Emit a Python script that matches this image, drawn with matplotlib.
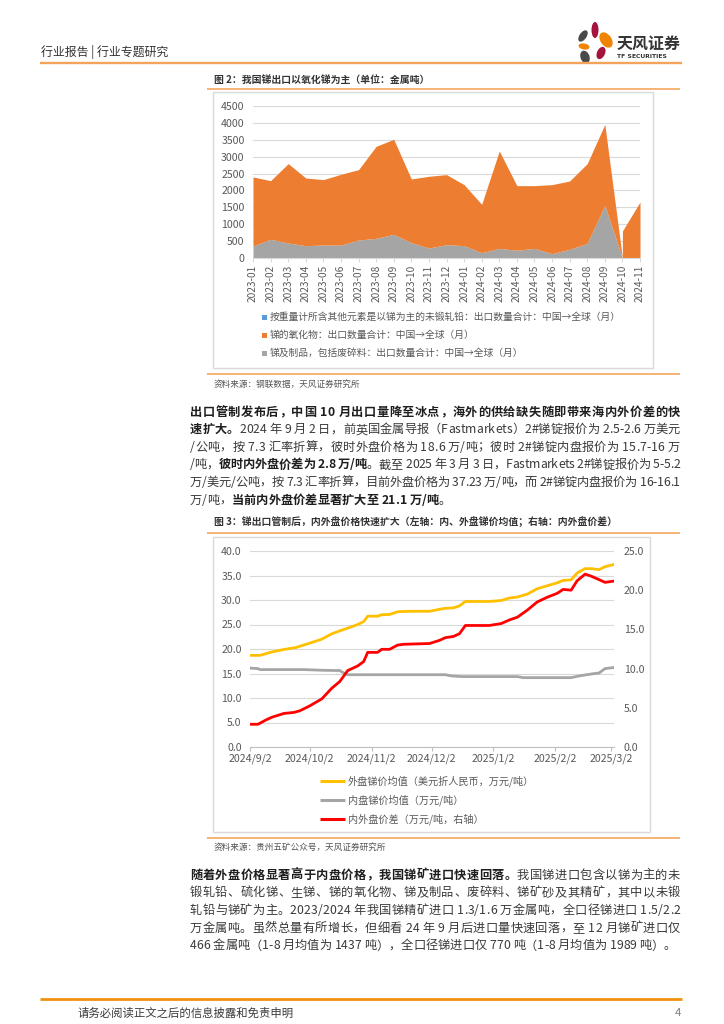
import datetime as dt
import numpy as np
import matplotlib
matplotlib.use('Agg')
import matplotlib.pyplot as plt
import matplotlib.dates as mdates
from matplotlib.font_manager import FontProperties
from matplotlib.patches import Rectangle, Ellipse

FAM = ['Noto Sans CJK SC', 'DejaVu Sans']
plt.rcParams['font.family'] = FAM

# ---------------- Figure 2 data (metal tonnes) ----------------
export_months = ['2023-01', '2023-02', '2023-03', '2023-04', '2023-05', '2023-06',
                 '2023-07', '2023-08', '2023-09', '2023-10', '2023-11', '2023-12',
                 '2024-01', '2024-02', '2024-03', '2024-04', '2024-05', '2024-06',
                 '2024-07', '2024-08', '2024-09', '2024-10', '2024-11']
unwrought_sb = [0, 0, 0, 0, 0, 0, 0, 0, 0, 0, 0, 0,
                0, 0, 0, 0, 0, 0, 0, 0, 0, 0, 0]
sb_oxide = [2044, 1737, 2350, 2004, 1935, 2093, 2083, 2725, 2814, 1886, 2123, 2073,
            1807, 1431, 2883, 1915, 1856, 2044, 2023, 2360, 2398, 800, 1658]
sb_products = [355, 553, 444, 365, 385, 385, 533, 582, 700, 454, 296, 395,
               365, 158, 286, 227, 286, 128, 257, 434, 1560, 0, 0]
legend2_labels = ['按重量计所含其他元素是以锑为主的未锻轧铅：出口数量合计：中国→全球（月）',
                  '锑的氧化物：出口数量合计：中国→全球（月）',
                  '锑及制品，包括废碎料：出口数量合计：中国→全球（月）']

# ---------------- Figure 3 data ----------------
foreign_dates = ['2024-09-02', '2024-09-07', '2024-09-13', '2024-09-19', '2024-09-25',
                 '2024-10-02', '2024-10-08', '2024-10-13', '2024-10-17', '2024-10-22',
                 '2024-10-26', '2024-10-29', '2024-10-31', '2024-11-05', '2024-11-07',
                 '2024-11-11', '2024-11-15', '2024-11-20', '2024-12-01', '2024-12-06',
                 '2024-12-09', '2024-12-13', '2024-12-16', '2024-12-19', '2024-12-31',
                 '2025-01-06', '2025-01-10', '2025-01-14', '2025-01-19', '2025-01-24',
                 '2025-01-29', '2025-02-03', '2025-02-06', '2025-02-10', '2025-02-13',
                 '2025-02-17', '2025-02-20', '2025-02-24', '2025-02-27', '2025-03-03']
foreign_price = [18.7, 18.7, 19.4, 19.9, 20.3, 21.2, 22.0, 23.1, 23.7, 24.4,
                 25.0, 25.6, 26.7, 26.7, 27.0, 27.05, 27.6, 27.7, 27.7, 28.1,
                 28.3, 28.4, 28.8, 29.7, 29.7, 29.9, 30.4, 30.6, 31.2, 32.3,
                 32.9, 33.5, 34.0, 34.1, 35.5, 36.4, 36.4, 36.2, 36.8, 37.2]
domestic_dates = ['2024-09-02', '2024-09-06', '2024-09-07', '2024-09-29', '2024-10-09',
                  '2024-10-17', '2024-10-19', '2024-10-21', '2024-12-09', '2024-12-12',
                  '2024-12-17', '2025-01-14', '2025-01-17', '2025-02-10', '2025-02-13',
                  '2025-02-17', '2025-02-21', '2025-02-24', '2025-02-27', '2025-03-03']
domestic_price = [16.1, 16.0, 15.8, 15.8, 15.65, 15.6, 15.1, 14.75, 14.75, 14.5,
                  14.37, 14.37, 14.15, 14.15, 14.42, 14.7, 14.95, 15.1, 16.0, 16.2]
spread_dates = ['2024-09-02', '2024-09-06', '2024-09-10', '2024-09-13', '2024-09-19',
                '2024-09-24', '2024-09-27', '2024-10-02', '2024-10-08', '2024-10-13',
                '2024-10-17', '2024-10-21', '2024-10-26', '2024-10-29', '2024-10-31',
                '2024-11-05', '2024-11-07', '2024-11-11', '2024-11-15', '2024-11-18',
                '2024-12-01', '2024-12-06', '2024-12-09', '2024-12-13', '2024-12-16',
                '2024-12-19', '2024-12-31', '2025-01-06', '2025-01-10', '2025-01-14',
                '2025-01-19', '2025-01-24', '2025-01-29', '2025-02-03', '2025-02-06',
                '2025-02-10', '2025-02-13', '2025-02-17', '2025-02-20', '2025-02-27',
                '2025-03-03']
spread_value = [2.9, 2.9, 3.45, 3.8, 4.28, 4.41, 4.62, 5.25, 6.14, 7.5,
                8.35, 9.75, 10.34, 10.9, 12.07, 12.07, 12.46, 12.46, 13.0, 13.1,
                13.2, 13.6, 13.95, 14.1, 14.45, 15.5, 15.5, 15.75, 16.2, 16.55,
                17.45, 18.5, 19.1, 19.6, 20.1, 20.0, 21.2, 22.05, 21.8, 21.0,
                21.15]
price_tick_labels = ['2024/9/2', '2024/10/2', '2024/11/2', '2024/12/2',
                     '2025/1/2', '2025/2/2', '2025/3/2']
legend3_labels = ['外盘锑价均值（美元折人民币，万元/吨）',
                  '内盘锑价均值（万元/吨）',
                  '内外盘价差（万元/吨，右轴）']

# ---------------- page text ----------------
para1 = [
    [("出口管制发布后，中国 10 月出口量降至冰点，海外的供给缺失随即带来海内外价差的快", True)],
    [("速扩大。", True), ("2024 年 9 月 2 日，前英国金属导报（Fastmarkets）2#锑锭报价为 2.5-2.6 万美元", False)],
    [("/公吨，按 7.3 汇率折算，彼时外盘价格为 18.6 万/吨；彼时 2#锑锭内盘报价为 15.7-16 万", False)],
    [("/吨，", False), ("彼时内外盘价差为 2.8 万/吨", True), ("。截至 2025 年 3 月 3 日，Fastmarkets 2#锑锭报价为 5-5.2", False)],
    [("万/美元/公吨，按 7.3 汇率折算，目前外盘价格为 37.23 万/吨，而 2#锑锭内盘报价为 16-16.1", False)],
    [("万/吨，", False), ("当前内外盘价差显著扩大至 21.1 万/吨", True), ("。", False)],
]
para2 = [
    [("随着外盘价格显著高于内盘价格，我国锑矿进口快速回落。", True), ("我国锑进口包含以锑为主的未", False)],
    [("锻轧铅、硫化锑、生锑、锑的氧化物、锑及制品、废碎料、锑矿砂及其精矿，其中以未锻", False)],
    [("轧铅与锑矿为主。2023/2024 年我国锑精矿进口 1.3/1.6 万金属吨，全口径锑进口 1.5/2.2", False)],
    [("万金属吨。虽然总量有所增长，但细看 24 年 9 月后进口量快速回落，至 12 月锑矿进口仅", False)],
    [("466 金属吨（1-8 月均值为 1437 吨），全口径锑进口仅 770 吨（1-8 月均值为 1989 吨）。", False)],
]

W, H = 724, 1024
fig = plt.figure(figsize=(W / 100, H / 100), dpi=100)
fig.patch.set_facecolor('white')
ov = fig.add_axes([0, 0, 1, 1], zorder=0)
ov.set_xlim(0, W)
ov.set_ylim(H, 0)
ov.axis('off')


def rect(l, t, r, b):
    return [l / W, 1 - b / H, (r - l) / W, (b - t) / H]


def hline(x0, x1, y, color, lw):
    ov.plot([x0, x1], [y, y], color=color, lw=lw, solid_capstyle='butt')


TXT = '#333333'
GRY = '#595959'
ORL = '#F4A65E'

# ---- header ----
ov.text(41, 52, '行业报告 | 行业专题研究', fontsize=8.6, color='#333333', va='center', ha='left')
hline(40, 682, 62.5, '#F3A35A', 1.7)
petals = [((583, 36), 7, 13, 35, '#4A4A4A'),
          ((595, 30), 7, 16, 0, '#A5143C'),
          ((606, 40), 11, 17, -35, '#F08300'),
          ((584, 46.5), 11, 6, 10, '#F08300'),
          ((601, 53), 8, 13, 25, '#A5143C'),
          ((585, 57), 9, 13, -20, '#4A4A4A')]
for c, w_, h_, a, col in petals:
    ov.add_patch(Ellipse(c, w_, h_, angle=a, color=col, lw=0))
ov.text(617, 44, '天风证券', fontsize=11.5, fontweight='bold', color='#333333', va='center', ha='left')
ov.text(617, 57, 'TF SECURITIES', fontsize=4.4, fontweight='bold', color='#333333',
        va='center', ha='left', family=['DejaVu Sans'])

# ---- footer ----
hline(40, 682, 999, '#F0920F', 2.0)
ov.text(78, 1013, '请务必阅读正文之后的信息披露和免责申明', fontsize=8.2, color='#3a3a3a',
        va='center', ha='left')
ov.text(675, 1013, '4', fontsize=8.2, color='#7f7f7f', va='center', ha='left')

# ---- justified paragraphs ----
renderer = fig.canvas.get_renderer()
_cache = {}


def cw(c, bold, size):
    key = (c, bold, size)
    if key not in _cache:
        prop = FontProperties(family=FAM, size=size, weight='bold' if bold else 'normal')
        w1 = renderer.get_text_width_height_descent('|' + c + '|', prop, ismath=False)[0]
        w0 = renderer.get_text_width_height_descent('||', prop, ismath=False)[0]
        _cache[key] = w1 - w0
    return _cache[key]


def draw_para(lines, x0, x1, y0, dy, size):
    for i, runs in enumerate(lines):
        chars = [(c, b) for t, b in runs for c in t]
        widths = [cw(c, b, size) for c, b in chars]
        total = sum(widths)
        last = (i == len(lines) - 1)
        extra = 0 if last else (x1 - x0 - total) / max(len(chars) - 1, 1)
        x = x0
        yb = y0 + i * dy + 4.6
        for (c, b), w_ in zip(chars, widths):
            if c != ' ':
                ov.text(x, yb, c, fontsize=size, fontweight='bold' if b else 'normal',
                        color='#1e1e1e' if b else '#3a3a3a', ha='left', va='baseline')
            x += w_ + extra


draw_para(para1, 190, 680, 411, 17.6, 8.8)
draw_para(para2, 190, 680, 874, 17.7, 8.8)

# ================= Figure 2 =================
ov.text(214, 80, '图 2：我国锑出口以氧化锑为主（单位：金属吨）', fontsize=7.1, fontweight='bold',
        color=TXT, va='center', ha='left')
hline(207, 680, 88.5, ORL, 1.2)
ov.add_patch(Rectangle((213, 92), 440, 276, fill=False, ec='#D9D9D9', lw=1.0))
hline(207, 680, 373.5, ORL, 1.2)
ov.text(214, 384, '资料来源：钢联数据，天风证券研究所', fontsize=6.2, color='#555555',
        va='center', ha='left')

ax2 = fig.add_axes(rect(253, 106, 640, 258), zorder=2)
ax2.patch.set_alpha(0)
xi = np.arange(len(export_months))
blue = np.array(unwrought_sb, float)
gray = np.array(sb_products, float)
oxide = np.array(sb_oxide, float)
top_gray = blue + gray
top_ox = top_gray + oxide
C_BLUE, C_OR, C_GR = '#5B9BD5', '#ED7D31', '#A5A5A5'
ax2.fill_between(xi, 0, blue, color=C_BLUE, lw=0)
ax2.fill_between(xi, blue, top_gray, color=C_GR, lw=0, zorder=2)
k = export_months.index('2024-10')
upper_a = np.concatenate([top_ox[:k], top_gray[k:k + 1]])
ax2.fill_between(xi[:k + 1], top_gray[:k + 1], upper_a, color=C_OR, lw=0, zorder=2)
ax2.fill_between(xi[k:], top_gray[k:], top_ox[k:], color=C_OR, lw=0, zorder=2)
ax2.set_xlim(0, len(export_months) - 1)
ax2.set_ylim(0, 4500)
ax2.set_yticks(np.arange(0, 4501, 500))
ax2.set_yticklabels([str(v) for v in range(0, 4501, 500)])
ax2.set_xticks(xi)
ax2.set_xticklabels(export_months, rotation=90)
ax2.grid(axis='y', color='#D9D9D9', lw=0.8)
ax2.set_axisbelow(True)
for s in ['top', 'right', 'left']:
    ax2.spines[s].set_visible(False)
ax2.spines['bottom'].set_color('#D9D9D9')
ax2.tick_params(axis='y', length=0, pad=6, labelsize=7.6, labelcolor=GRY)
ax2.tick_params(axis='x', length=3, color='#D9D9D9', pad=2, labelsize=7.3, labelcolor=GRY)

for j, (lab, col) in enumerate(zip(legend2_labels, [C_BLUE, C_OR, C_GR])):
    yy = 317 + j * 18
    ov.add_patch(Rectangle((262, yy - 2.5), 5, 5, color=col, lw=0))
    ov.text(270, yy, lab, fontsize=7.05, color=GRY, va='center', ha='left')

# ================= Figure 3 =================
ov.text(214, 523, '图 3：锑出口管制后，内外盘价格快速扩大（左轴：内、外盘锑价均值；右轴：内外盘价差）',
        fontsize=7.1, fontweight='bold', color=TXT, va='center', ha='left')
hline(207, 680, 533, ORL, 1.2)
ov.add_patch(Rectangle((213, 537), 437, 295, fill=False, ec='#D9D9D9', lw=1.0))
hline(207, 680, 838, ORL, 1.2)
ov.text(214, 847, '资料来源：贵州五矿公众号，天风证券研究所', fontsize=6.2, color='#555555',
        va='center', ha='left')


def to_num(lst):
    return mdates.date2num([dt.datetime.strptime(s, '%Y-%m-%d') for s in lst])


ax3 = fig.add_axes(rect(250, 551, 614, 747), zorder=2)
ax3.patch.set_alpha(0)
d0 = to_num(['2024-09-02'])[0]
C_Y, C_G, C_R = '#FFC000', '#A5A5A5', '#FF0000'
ax3.plot(to_num(domestic_dates), domestic_price, color=C_G, lw=2.0, solid_joinstyle='round')
ax3.plot(to_num(foreign_dates), foreign_price, color=C_Y, lw=2.0, solid_joinstyle='round')
ax3.set_xlim(d0, d0 + 182.5)
ax3.set_ylim(0, 40)
ax3.set_yticks(np.arange(0, 40.1, 5))
ax3.set_yticklabels(['%.1f' % v for v in np.arange(0, 40.1, 5)])
tick_pos = mdates.date2num([dt.datetime.strptime(s, '%Y/%m/%d') for s in price_tick_labels])
ax3.set_xticks(tick_pos)
ax3.set_xticklabels(price_tick_labels)
ax3.grid(axis='y', color='#D9D9D9', lw=0.8)
ax3.set_axisbelow(True)
for s in ['top', 'right', 'left']:
    ax3.spines[s].set_visible(False)
ax3.spines['bottom'].set_color('#BFBFBF')
ax3.tick_params(axis='y', length=0, pad=6, labelsize=7.6, labelcolor=GRY)
ax3.tick_params(axis='x', length=3, color='#BFBFBF', pad=2, labelsize=7.6, labelcolor=GRY)

ax3r = ax3.twinx()
ax3r.patch.set_alpha(0)
ax3r.plot(to_num(spread_dates), spread_value, color=C_R, lw=2.0, solid_joinstyle='round')
ax3r.set_ylim(0, 25)
ax3r.set_yticks(np.arange(0, 25.1, 5))
ax3r.set_yticklabels(['%.1f' % v for v in np.arange(0, 25.1, 5)])
for s in ['top', 'right', 'left', 'bottom']:
    ax3r.spines[s].set_visible(False)
ax3r.tick_params(axis='y', length=0, pad=7, labelsize=7.6, labelcolor=GRY)

for j, (lab, col) in enumerate(zip(legend3_labels, [C_Y, C_G, C_R])):
    yy = 781 + j * 19.2
    ov.plot([320, 345], [yy, yy], color=col, lw=2.2, solid_capstyle='butt')
    ov.text(348, yy, lab, fontsize=7.3, color=GRY, va='center', ha='left')

fig.savefig('out.png', dpi=100, facecolor='white')
